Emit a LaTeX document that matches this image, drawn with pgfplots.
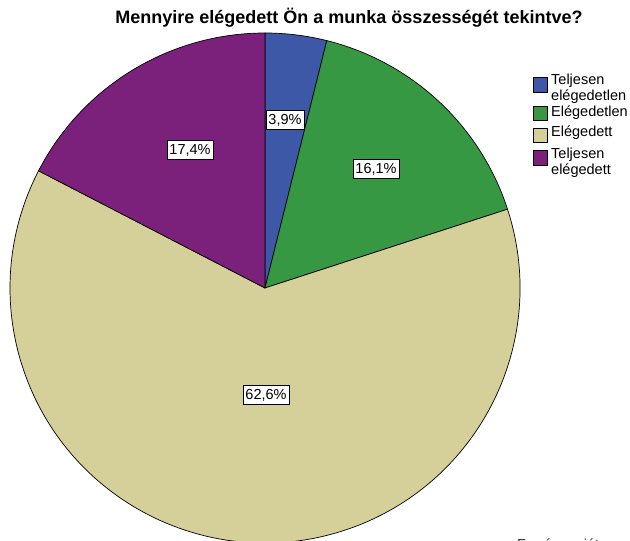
\documentclass[border=0pt]{standalone}
\usepackage{pgfplots}
\pgfplotsset{compat=1.18}
\usepackage{fontspec}
\setmainfont{Liberation Sans}
\definecolor{cblue}{RGB}{62,88,168}
\definecolor{cgreen}{RGB}{54,152,66}
\definecolor{ctan}{RGB}{213,207,153}
\definecolor{cpurple}{RGB}{123,33,123}
\tikzset{lab/.style={draw=black,fill=white,line width=0.7pt,inner xsep=2.5pt,inner ysep=3.5pt,font=\fontsize{14.5}{16}\selectfont}}
\begin{document}
\begin{tikzpicture}
% shares of the four answers (%)
\def\vA{3.9}\def\vB{16.1}\def\vC{62.6}\def\vD{17.4}
\pgfmathsetmacro\aA{90}
\pgfmathsetmacro\aB{\aA-\vA*3.6}
\pgfmathsetmacro\aC{\aB-\vB*3.6}
\pgfmathsetmacro\aD{\aC-\vC*3.6}
\pgfmathsetmacro\aE{\aD-\vD*3.6}
\begin{axis}[x=1pt,y=1pt,xmin=0,xmax=630,ymin=0,ymax=541,hide axis,clip=true]
\fill[cblue,draw=black,line width=0.7pt] (axis cs:265,253) -- ++(\aA:255pt) arc[start angle=\aA,end angle=\aB,radius=255pt] -- cycle;
\fill[cgreen,draw=black,line width=0.7pt] (axis cs:265,253) -- ++(\aB:255pt) arc[start angle=\aB,end angle=\aC,radius=255pt] -- cycle;
\fill[ctan,draw=black,line width=0.7pt] (axis cs:265,253) -- ++(\aC:255pt) arc[start angle=\aC,end angle=\aD,radius=255pt] -- cycle;
\fill[cpurple,draw=black,line width=0.7pt] (axis cs:265,253) -- ++(\aD:255pt) arc[start angle=\aD,end angle=\aE,radius=255pt] -- cycle;
\node[lab] at (axis cs:285,421) {3,9\%};
\node[lab] at (axis cs:376,372) {16,1\%};
\node[lab] at (axis cs:266,146) {62,6\%};
\node[lab] at (axis cs:190,391) {17,4\%};
\node[font=\fontsize{18}{20}\selectfont\bfseries] at (axis cs:349,523) {Mennyire elégedett Ön a munka összességét tekintve?};
\end{axis}
% legend
\begin{scope}[font=\fontsize{14.5}{16}\selectfont]
\fill[cblue,draw=black,line width=0.7pt] (533pt,449pt) rectangle (547pt,464pt);
\node[anchor=west,align=left,inner sep=0pt] at (551pt,452pt) {Teljesen\\elégedetlen};
\fill[cgreen,draw=black,line width=0.7pt] (533pt,421pt) rectangle (547pt,435pt);
\node[anchor=west,inner sep=0pt] at (551pt,428pt) {Elégedetlen};
\fill[ctan,draw=black,line width=0.7pt] (533pt,399pt) rectangle (547pt,413pt);
\node[anchor=west,inner sep=0pt] at (551pt,408pt) {Elégedett};
\fill[cpurple,draw=black,line width=0.7pt] (533pt,376pt) rectangle (547pt,391pt);
\node[anchor=west,align=left,inner sep=0pt] at (551pt,378pt) {Teljesen\\elégedett};
\node[anchor=base west,inner sep=0pt,text=black!80] at (517pt,-9pt) {Forrás: saját szerkesztés};
\end{scope}
\pgfresetboundingbox
\useasboundingbox (0,0) rectangle (630pt,541pt);
\end{tikzpicture}
\end{document}
